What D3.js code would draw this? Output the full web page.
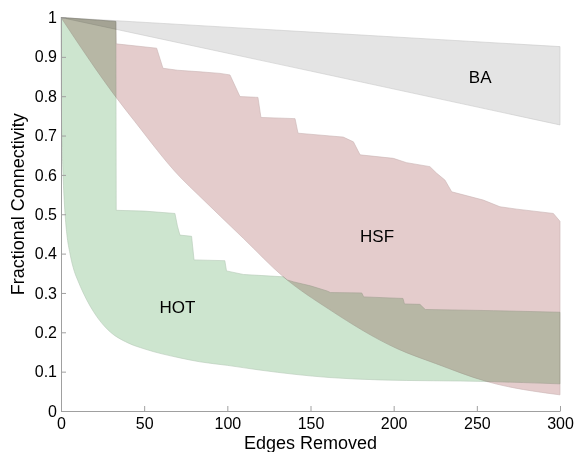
<!DOCTYPE html>
<html>
<head>
<meta charset="utf-8">
<script src="https://cdn.jsdelivr.net/npm/d3@7/dist/d3.min.js"></script>
<style>
  body { margin: 0; background: #fff; }
  svg { font-family: "Liberation Sans", Arial, Helvetica, sans-serif; }
  .region { mix-blend-mode: multiply; }
  .axis path, .axis line { stroke: #a0a0a0; }
  .axis text { fill: #000; font-size: 16px; }
</style>
</head>
<body>
<div id="chart-area"><svg></svg></div>
<script>
const chartSize = { width: 576, height: 452 };
const margin = { left: 61, right: 16, top: 17.5, bottom: 41 };
const width = chartSize.width - margin.left - margin.right;
const height = chartSize.height - margin.top - margin.bottom;

const xTicks = [0, 50, 100, 150, 200, 250, 300];
const yTicks = [0, 0.1, 0.2, 0.3, 0.4, 0.5, 0.6, 0.7, 0.8, 0.9, 1];

// BA band: two nearly straight edges
const baUpper = [[0, 1], [150, 0.963], [300, 0.926]];
const baLower = [[0, 1], [150, 0.864], [300, 0.727]];

// HSF band: stepped upper edge, smooth lower edge
const hsfUpper = [
  [0, 1], [33, 0.99], [33.2, 0.933], [57.5, 0.922], [61.3, 0.871], [70, 0.866],
  [83.6, 0.862], [95.6, 0.858], [101.6, 0.854], [107.6, 0.799], [118.4, 0.797],
  [120.2, 0.746], [140.7, 0.743], [142.5, 0.706], [161.7, 0.699], [169.7, 0.696],
  [175.8, 0.684], [179.8, 0.651], [199.8, 0.642], [207.8, 0.631], [221.8, 0.621],
  [225.9, 0.604], [230.8, 0.587], [234.9, 0.557], [253.9, 0.536], [263.9, 0.519],
  [274, 0.513], [296, 0.502], [300, 0.482]
];
const hsfLower = [
  [0, 1], [33.5, 0.795], [44.5, 0.735], [71.5, 0.595], [82.6, 0.549],
  [109.6, 0.439], [133.7, 0.341], [161.7, 0.257], [201.8, 0.159],
  [225, 0.121], [256, 0.075], [300, 0.041]
];

// HOT band: stepped upper edge, fast decaying lower edge
const hotUpper = [
  [0, 1], [33, 0.99], [33.2, 0.51], [50, 0.508], [68.5, 0.502], [70, 0.47],
  [71.5, 0.447], [78.5, 0.444], [80, 0.384], [98.5, 0.382], [99.5, 0.356],
  [109.6, 0.347], [133.7, 0.341], [136, 0.333], [140, 0.328], [150, 0.318],
  [160, 0.305], [162, 0.301], [180.8, 0.300], [182, 0.29], [205.6, 0.286],
  [206.5, 0.272], [215.8, 0.271], [219, 0.258], [260, 0.255], [300, 0.251]
];
const hotLower = [
  [0, 1], [0.3, 0.75], [0.7, 0.67], [1.2, 0.605], [2.4, 0.503], [3.5, 0.45],
  [5.4, 0.40], [8, 0.355], [10, 0.333], [13.4, 0.30], [21.5, 0.24],
  [28.3, 0.206], [40.3, 0.173], [50, 0.158], [71.5, 0.135], [83.5, 0.125],
  [100, 0.116], [119.6, 0.104], [161.7, 0.085], [191.8, 0.079],
  [256, 0.075], [300, 0.069]
];

const regions = [
  { name: "BA", upper: baUpper, lower: baLower, fill: "#e4e4e4", label: [252, 0.833] },
  { name: "HSF", upper: hsfUpper, lower: hsfLower, fill: "#e4cccc", label: [190, 0.43] },
  { name: "HOT", upper: hotUpper, lower: hotLower, fill: "#cde5cf", label: [70, 0.25] }
];

const svg = d3
  .select("#chart-area svg")
  .attr("width", chartSize.width)
  .attr("height", chartSize.height);

const g = svg
  .append("g")
  .attr("transform", `translate(${margin.left},${margin.top})`);

const x = d3.scaleLinear().domain([0, 300]).range([0, width]);
const y = d3.scaleLinear().domain([0, 1]).range([height, 0]);

const smooth = d3.line().x(d => x(d[0])).y(d => y(d[1])).curve(d3.curveMonotoneX);
const straight = d3.line().x(d => x(d[0])).y(d => y(d[1]));

// polygon = lower edge left->right, then upper edge right->left
const regionPath = r =>
  smooth(r.lower) + straight(r.upper.slice().reverse()).replace(/^M/, "L") + "Z";

g.selectAll(".region")
  .data(regions)
  .enter()
  .append("path")
  .attr("class", "region")
  .attr("d", regionPath)
  .attr("fill", r => r.fill)
  .attr("stroke", r => d3.color(r.fill).darker(0.35))
  .attr("stroke-width", 0.6)
  .attr("stroke-linejoin", "round");

g.selectAll(".region-label")
  .data(regions)
  .enter()
  .append("text")
  .attr("class", "region-label")
  .attr("x", r => x(r.label[0]))
  .attr("y", r => y(r.label[1]))
  .attr("text-anchor", "middle")
  .attr("font-size", 17)
  .text(r => r.name);

g.append("g")
  .attr("class", "x axis")
  .attr("transform", `translate(0,${height})`)
  .call(
    d3.axisBottom(x).tickValues(xTicks).tickSizeInner(-5).tickSizeOuter(0).tickPadding(7)
  );

g.append("g")
  .attr("class", "y axis")
  .call(
    d3.axisLeft(y).tickValues(yTicks).tickSizeInner(-5).tickSizeOuter(0).tickPadding(4)
      .tickFormat(d3.format("~g"))
  );

g.append("text")
  .attr("x", width / 2)
  .attr("y", height + 38)
  .attr("text-anchor", "middle")
  .attr("font-size", 18)
  .text("Edges Removed");

g.append("text")
  .attr("transform", "rotate(-90)")
  .attr("x", -height / 2 + 10)
  .attr("y", -37)
  .attr("text-anchor", "middle")
  .attr("font-size", 18)
  .text("Fractional Connectivity");
</script>
</body>
</html>
